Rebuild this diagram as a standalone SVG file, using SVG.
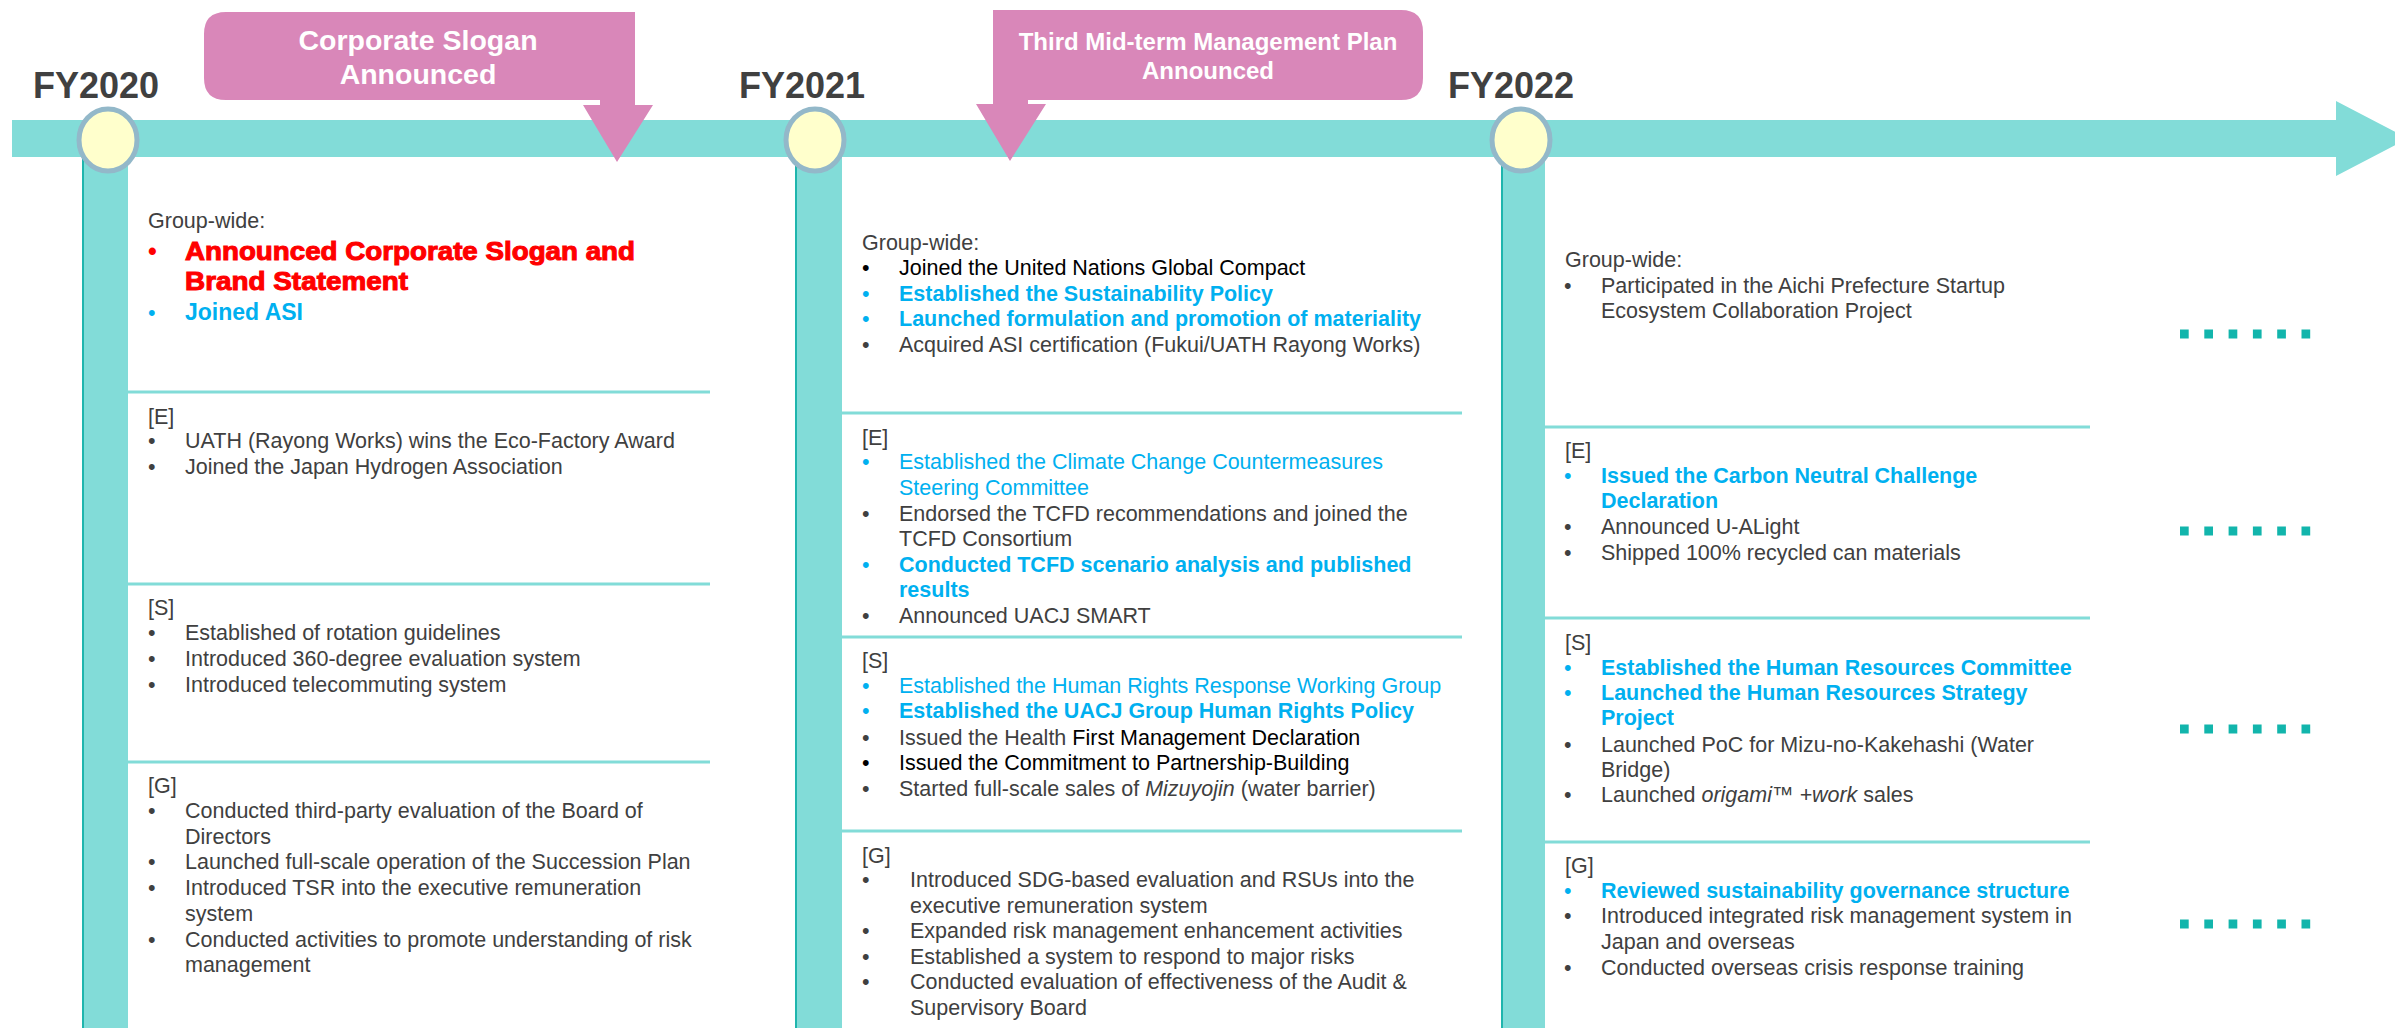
<svg xmlns="http://www.w3.org/2000/svg" width="2395" height="1028" viewBox="0 0 2395 1028">
<style>
text{font-family:"Liberation Sans",Arial,sans-serif;font-size:21.5px;fill:#404040}
.b{font-weight:bold}
.c{fill:#00B0F0}
.k{fill:#000}
.r{fill:#FF0000;font-weight:bold;font-size:25px;stroke:#FF0000;stroke-width:1}
.rb{fill:#FF0000;font-weight:bold;font-size:25px}
.i{font-style:italic}
.fy{font-size:36px;font-weight:bold;fill:#404040}
.co{font-weight:bold;fill:#FFFFFF;text-anchor:middle}
.co1{font-size:28.5px}
.co2{font-size:24px}
.big{font-size:23px}
.sep{stroke:#82DCD8;stroke-width:3}
.vbar{fill:#82DCD8}
.vedge{stroke:#1FB5AD;stroke-width:2}
.node{fill:#FFFFCC;stroke:#93B8C9;stroke-width:5}
.pink{fill:#D987B9}
.dots{stroke:#12B5AC;stroke-width:9;stroke-dasharray:8.7 15.6}
</style>
<rect width="2395" height="1028" fill="#FFFFFF"/>

<g id="connectors">
  <path id="timeline" d="M12,120 L2336,120 L2336,101 L2408,138.5 L2336,176 L2336,157 L12,157 Z" fill="#82DCD8"/>
  <rect class="vbar" x="82" y="150" width="46" height="878"/>
  <line class="vedge" x1="83" y1="150" x2="83" y2="1028"/>
  <rect class="vbar" x="795" y="150" width="47" height="878"/>
  <line class="vedge" x1="796" y1="150" x2="796" y2="1028"/>
  <rect class="vbar" x="1501" y="150" width="44" height="878"/>
  <line class="vedge" x1="1502" y1="150" x2="1502" y2="1028"/>
</g>

<g id="fy2020">
  <text class="fy" x="33" y="98">FY2020</text>
  <ellipse class="node" cx="108" cy="140" rx="29" ry="31"/>
</g>
<g id="fy2021">
  <text class="fy" x="739" y="98">FY2021</text>
  <ellipse class="node" cx="815" cy="140" rx="29" ry="31"/>
</g>
<g id="fy2022">
  <text class="fy" x="1448" y="98">FY2022</text>
  <ellipse class="node" cx="1521" cy="140" rx="29" ry="31"/>
</g>

<g id="callout-slogan">
  <path class="pink" d="M226,12 L635,12 L635,105 L653,105 L617,162 L583,105 L600,105 L600,100 L226,100 Q204,100 204,78 L204,34 Q204,12 226,12 Z"/>
  <text class="co co1" x="418" y="50">Corporate Slogan</text>
  <text class="co co1" x="418" y="84">Announced</text>
</g>

<g id="callout-plan">
  <path class="pink" d="M993,10 L1401,10 Q1423,10 1423,32 L1423,78 Q1423,100 1401,100 L1028,100 L1028,104 L1046,104 L1010,161 L976,104 L993,104 Z"/>
  <text class="co co2" x="1208" y="50">Third Mid-term Management Plan</text>
  <text class="co co2" x="1208" y="79">Announced</text>
</g>

<g id="col-2020">
  <line class="sep" x1="128" y1="392" x2="710" y2="392"/>
  <line class="sep" x1="128" y1="584" x2="710" y2="584"/>
  <line class="sep" x1="128" y1="762" x2="710" y2="762"/>
  <text x="148" y="228">Group-wide:</text>
  <text x="148" y="260" class="rb">•</text>
  <text x="185" y="260" class="r" textLength="450" lengthAdjust="spacingAndGlyphs">Announced Corporate Slogan and</text>
  <text x="185" y="290" class="r" textLength="223" lengthAdjust="spacingAndGlyphs">Brand Statement</text>
  <text x="148" y="320" class="c">•</text>
  <text x="185" y="320" class="c b big">Joined ASI</text>

  <text x="148" y="424">[E]</text>
  <text x="148" y="448">•</text><text x="185" y="448">UATH (Rayong Works) wins the Eco-Factory Award</text>
  <text x="148" y="474">•</text><text x="185" y="474">Joined the Japan Hydrogen Association</text>

  <text x="148" y="615">[S]</text>
  <text x="148" y="640">•</text><text x="185" y="640">Established of rotation guidelines</text>
  <text x="148" y="666">•</text><text x="185" y="666">Introduced 360-degree evaluation system</text>
  <text x="148" y="692">•</text><text x="185" y="692">Introduced telecommuting system</text>

  <text x="148" y="793">[G]</text>
  <text x="148" y="818">•</text><text x="185" y="818">Conducted third-party evaluation of the Board of</text>
  <text x="185" y="844">Directors</text>
  <text x="148" y="869">•</text><text x="185" y="869">Launched full-scale operation of the Succession Plan</text>
  <text x="148" y="895">•</text><text x="185" y="895">Introduced TSR into the executive remuneration</text>
  <text x="185" y="921">system</text>
  <text x="148" y="947">•</text><text x="185" y="947">Conducted activities to promote understanding of risk</text>
  <text x="185" y="972">management</text>
</g>

<g id="col-2021">
  <line class="sep" x1="842" y1="413" x2="1462" y2="413"/>
  <line class="sep" x1="842" y1="637" x2="1462" y2="637"/>
  <line class="sep" x1="842" y1="831" x2="1462" y2="831"/>
  <text x="862" y="250">Group-wide:</text>
  <text x="862" y="275" class="k">•</text><text x="899" y="275" class="k">Joined the United Nations Global Compact</text>
  <text x="862" y="301" class="c">•</text><text x="899" y="301" class="c b">Established the Sustainability Policy</text>
  <text x="862" y="326" class="c">•</text><text x="899" y="326" class="c b">Launched formulation and promotion of materiality</text>
  <text x="862" y="352">•</text><text x="899" y="352">Acquired ASI certification (Fukui/UATH Rayong Works)</text>

  <text x="862" y="445">[E]</text>
  <text x="862" y="469" class="c">•</text><text x="899" y="469" class="c">Established the Climate Change Countermeasures</text>
  <text x="899" y="495" class="c">Steering Committee</text>
  <text x="862" y="521">•</text><text x="899" y="521">Endorsed the TCFD recommendations and joined the</text>
  <text x="899" y="546">TCFD Consortium</text>
  <text x="862" y="572" class="c">•</text><text x="899" y="572" class="c b">Conducted TCFD scenario analysis and published</text>
  <text x="899" y="597" class="c b">results</text>
  <text x="862" y="623">•</text><text x="899" y="623">Announced UACJ SMART</text>

  <text x="862" y="668">[S]</text>
  <text x="862" y="693" class="c">•</text><text x="899" y="693" class="c">Established the Human Rights Response Working Group</text>
  <text x="862" y="718" class="c">•</text><text x="899" y="718" class="c b">Established the UACJ Group Human Rights Policy</text>
  <text x="862" y="745">•</text><text x="899" y="745">Issued the Health <tspan class="k">First Management Declaration</tspan></text>
  <text x="862" y="770" class="k">•</text><text x="899" y="770" class="k">Issued the Commitment to Partnership-Building</text>
  <text x="862" y="796">•</text><text x="899" y="796">Started full-scale sales of <tspan class="i">Mizuyojin</tspan> (water barrier)</text>

  <text x="862" y="863">[G]</text>
  <text x="862" y="887">•</text><text x="910" y="887">Introduced SDG-based evaluation and RSUs into the</text>
  <text x="910" y="913">executive remuneration system</text>
  <text x="862" y="938">•</text><text x="910" y="938">Expanded risk management enhancement activities</text>
  <text x="862" y="964">•</text><text x="910" y="964">Established a system to respond to major risks</text>
  <text x="862" y="989">•</text><text x="910" y="989">Conducted evaluation of effectiveness of the Audit &amp;</text>
  <text x="910" y="1015">Supervisory Board</text>
</g>

<g id="col-2022">
  <line class="sep" x1="1544" y1="427" x2="2090" y2="427"/>
  <line class="sep" x1="1544" y1="618" x2="2090" y2="618"/>
  <line class="sep" x1="1544" y1="842" x2="2090" y2="842"/>
  <text x="1565" y="267">Group-wide:</text>
  <text x="1564" y="293">•</text><text x="1601" y="293">Participated in the Aichi Prefecture Startup</text>
  <text x="1601" y="318">Ecosystem Collaboration Project</text>

  <text x="1565" y="458">[E]</text>
  <text x="1564" y="483" class="c">•</text><text x="1601" y="483" class="c b">Issued the Carbon Neutral Challenge</text>
  <text x="1601" y="508" class="c b">Declaration</text>
  <text x="1564" y="534">•</text><text x="1601" y="534">Announced U-ALight</text>
  <text x="1564" y="560">•</text><text x="1601" y="560">Shipped 100% recycled can materials</text>

  <text x="1565" y="650">[S]</text>
  <text x="1564" y="675" class="c">•</text><text x="1601" y="675" class="c b">Established the Human Resources Committee</text>
  <text x="1564" y="700" class="c">•</text><text x="1601" y="700" class="c b">Launched the Human Resources Strategy</text>
  <text x="1601" y="725" class="c b">Project</text>
  <text x="1564" y="752">•</text><text x="1601" y="752">Launched PoC for Mizu-no-Kakehashi (Water</text>
  <text x="1601" y="777">Bridge)</text>
  <text x="1564" y="802">•</text><text x="1601" y="802">Launched <tspan class="i">origami</tspan>™ <tspan class="i">+work</tspan> sales</text>

  <text x="1565" y="873">[G]</text>
  <text x="1564" y="898" class="c">•</text><text x="1601" y="898" class="c b">Reviewed sustainability governance structure</text>
  <text x="1564" y="923">•</text><text x="1601" y="923">Introduced integrated risk management system in</text>
  <text x="1601" y="949">Japan and overseas</text>
  <text x="1564" y="975">•</text><text x="1601" y="975">Conducted overseas crisis response training</text>
</g>

<g id="continuation">
  <line class="dots" x1="2180" y1="334" x2="2312" y2="334"/>
  <line class="dots" x1="2180" y1="531" x2="2312" y2="531"/>
  <line class="dots" x1="2180" y1="729" x2="2312" y2="729"/>
  <line class="dots" x1="2180" y1="924" x2="2312" y2="924"/>
</g>
</svg>
